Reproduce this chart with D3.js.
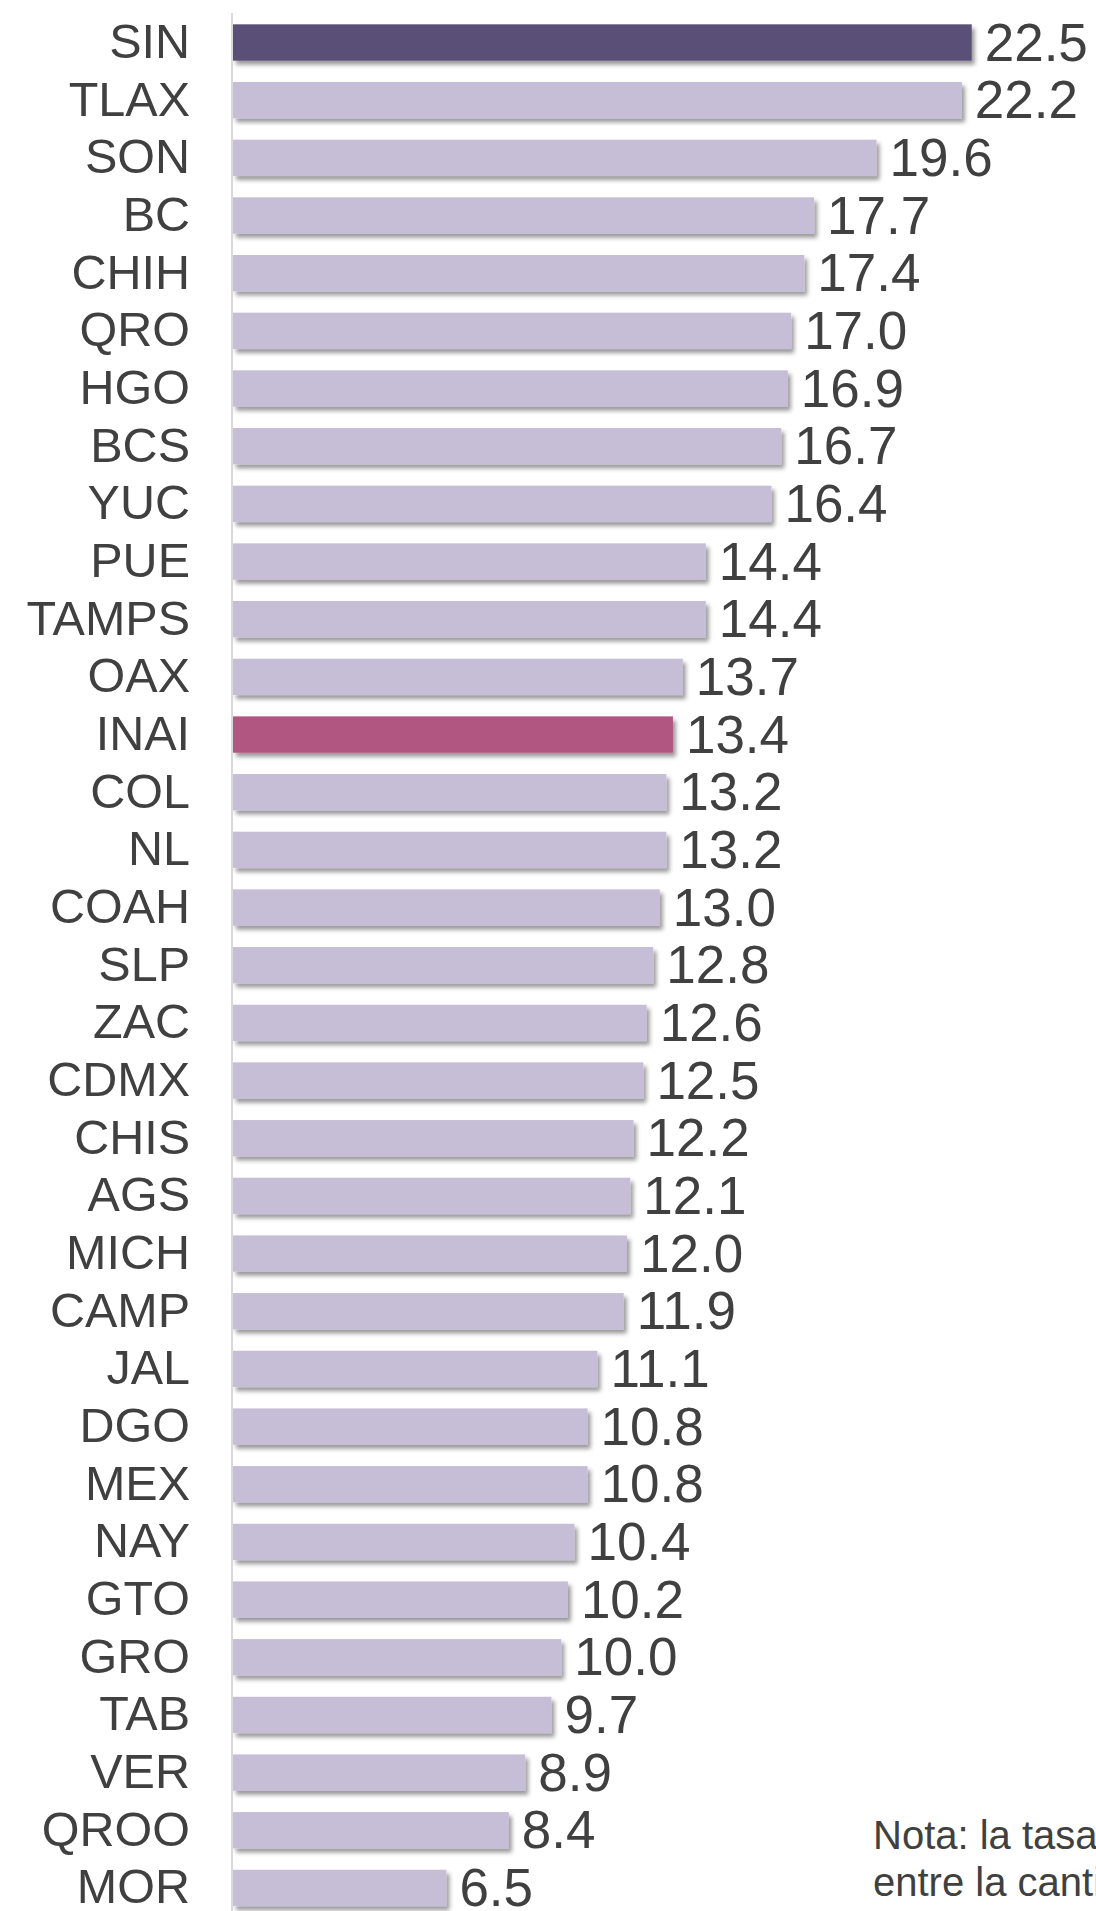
<!DOCTYPE html>
<html>
<head>
<meta charset="utf-8">
<script src="https://cdn.jsdelivr.net/npm/d3@7"></script>
<style>
  html, body { margin: 0; padding: 0; background: #fff; overflow: hidden; }
  text { font-family: "Liberation Sans", Arial, sans-serif; fill: #404040; }
</style>
</head>
<body>
<svg id="chart" width="1096" height="1911"></svg>
<script>
const states = ["SIN", "TLAX", "SON", "BC", "CHIH", "QRO", "HGO", "BCS", "YUC", "PUE", "TAMPS",
  "OAX", "INAI", "COL", "NL", "COAH", "SLP", "ZAC", "CDMX", "CHIS", "AGS", "MICH", "CAMP",
  "JAL", "DGO", "MEX", "NAY", "GTO", "GRO", "TAB", "VER", "QROO", "MOR"];
const rates = [22.5, 22.2, 19.6, 17.7, 17.4, 17.0, 16.9, 16.7, 16.4, 14.4, 14.4,
  13.7, 13.4, 13.2, 13.2, 13.0, 12.8, 12.6, 12.5, 12.2, 12.1, 12.0, 11.9,
  11.1, 10.8, 10.8, 10.4, 10.2, 10.0, 9.7, 8.9, 8.4, 6.5];
const noteLines = ["Nota: la tasa se calcula como el cociente",
  "entre la cantidad de solicitudes y la población"];

const data = states.map((s, i) => ({ state: s, value: rates[i] }));

const svg = d3.select("#chart");
const x0 = 233;

const xScale = d3.scaleLinear().domain([0, 22.5]).range([x0, 971.7]);

const step = 57.67;
const yTop = 42.5 - step / 2;
const yScale = d3.scaleBand()
  .domain(states)
  .range([yTop, yTop + states.length * step])
  .paddingInner(0.37)
  .paddingOuter(0.185);

const defs = svg.append("defs");
const f = defs.append("filter").attr("id", "shadow")
  .attr("x", "-5%").attr("y", "-30%").attr("width", "115%").attr("height", "190%");
f.append("feDropShadow").attr("dx", 3).attr("dy", 4).attr("stdDeviation", 2)
  .attr("flood-color", "#000").attr("flood-opacity", 0.4);

const barColor = (d) => d.state === "SIN" ? "#5a5077" : d.state === "INAI" ? "#b05780" : "#c6bdd6";

// bars
svg.append("g")
  .selectAll("rect")
  .data(data)
  .join("rect")
  .attr("x", x0)
  .attr("y", (d) => yScale(d.state))
  .attr("width", (d) => xScale(d.value) - x0)
  .attr("height", yScale.bandwidth())
  .attr("fill", barColor)
  .attr("filter", "url(#shadow)");

// axis line
svg.append("line")
  .attr("x1", x0 - 1).attr("x2", x0 - 1)
  .attr("y1", 13).attr("y2", 1911)
  .attr("stroke", "#d9d9d9").attr("stroke-width", 2);

// category labels
svg.append("g")
  .selectAll("text")
  .data(data)
  .join("text")
  .attr("x", 190)
  .attr("y", (d) => yScale(d.state) + yScale.bandwidth() / 2 - 2)
  .attr("dy", "0.36em")
  .attr("text-anchor", "end")
  .attr("font-size", 48.5)
  .text((d) => d.state);

// value labels
svg.append("g")
  .selectAll("text")
  .data(data)
  .join("text")
  .attr("x", (d) => xScale(d.value) + 13)
  .attr("y", (d) => yScale(d.state) + yScale.bandwidth() / 2 - 1)
  .attr("dy", "0.36em")
  .attr("font-size", 53)
  .text((d) => d.value.toFixed(1));

// note
svg.append("g")
  .selectAll("text")
  .data(noteLines)
  .join("text")
  .attr("x", 873)
  .attr("y", (d, i) => 1849 + i * 47)
  .attr("font-size", 40)
  .text((d) => d);
</script>
</body>
</html>
